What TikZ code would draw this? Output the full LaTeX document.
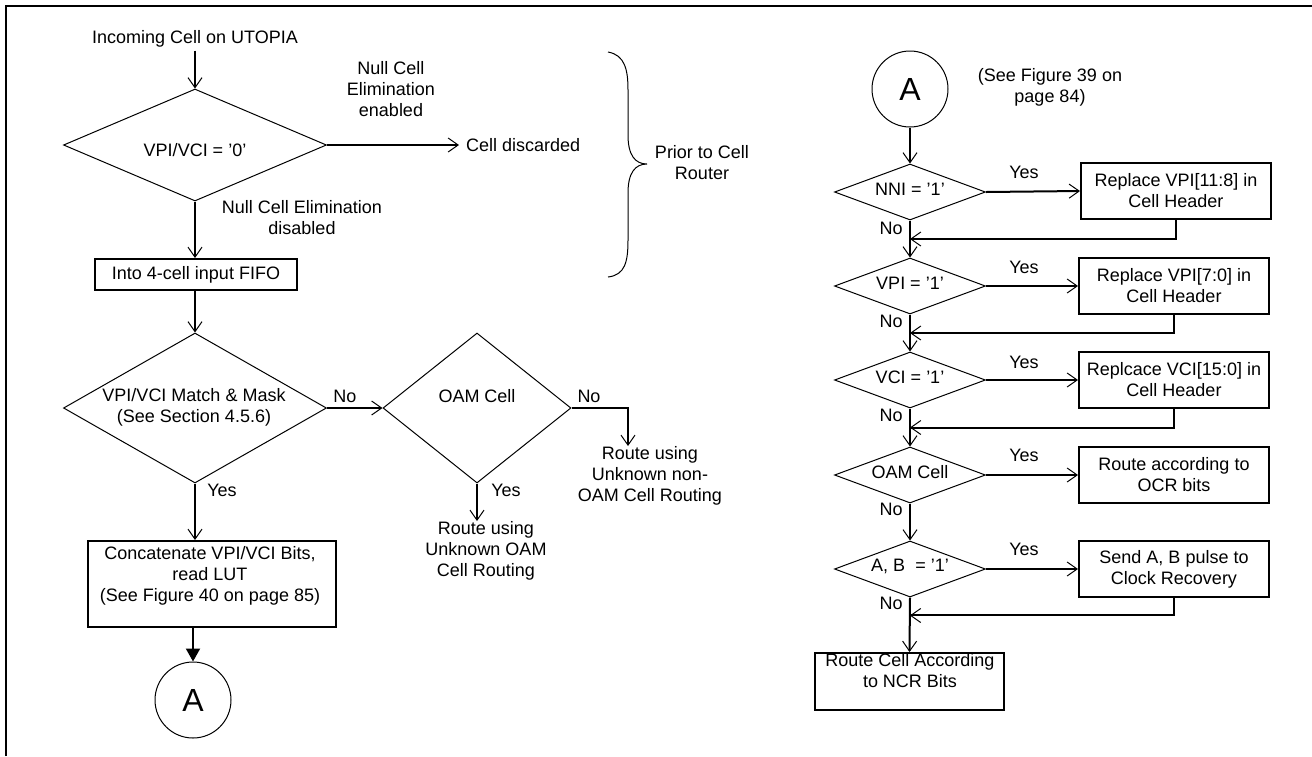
\documentclass[tikz,border=0pt]{standalone}
\usepackage{fontspec}
\setmainfont{Liberation Sans}
\usetikzlibrary{arrows.meta,shapes.geometric,calc}
\begin{document}
\begin{tikzpicture}[x=1pt,y=-1pt,
  every node/.style={font=\fontsize{18}{21}\selectfont, inner sep=0pt},
  lbl/.style={align=center},
  box/.style={draw, line width=2pt, inner sep=0pt, align=center},
  dia/.style={draw, diamond, line width=1pt, inner sep=0pt},
  rdia/.style={dia, minimum width=151pt, minimum height=56pt},
  rbox/.style={box, minimum width=190pt, minimum height=56pt},
  conn/.style={line width=1.6pt, -{Straight Barb[length=10pt,width=14pt,line width=1pt]}},
  rconn/.style={conn, line width=2pt},
  big/.style={draw, circle, line width=1pt, minimum size=76pt, font=\fontsize{32}{36}\selectfont}]

\useasboundingbox (0,0) rectangle (1312,756);
\draw[line width=2pt] (6,756) -- (6,6) -- (1312,6);

% ---------- left flow ----------
\node (title) at (195,39) {Incoming Cell on UTOPIA};
\node[dia, minimum width=263pt, minimum height=112pt] (d1) at (195,145) {};
\node (d1t) at (195,150) {VPI/VCI = '0'};
\node[anchor=west] (disc) at (466,145) {Cell discarded};
\node[lbl] (en) at (391,89) {Null Cell\\Elimination\\enabled};
\node[lbl] (dis) at (302,218) {Null Cell Elimination\\disabled};
\node[box, minimum width=202pt, minimum height=31pt] (fifo) at (196,274.5) {Into 4-cell input FIFO};
\node[dia, minimum width=263pt, minimum height=150pt] (d2) at (195,408) {};
\node[lbl] (d2t) at (194,407) {VPI/VCI Match \& Mask\\(See Section 4.5.6)};
\node (no1) at (345,396) {No};
\node[dia, minimum width=188pt, minimum height=150pt] (d3) at (477,408) {};
\node (d3t) at (477,396) {OAM Cell};
\node (no2) at (589,396) {No};
\node[lbl, anchor=north] (nonoam) at (650,446) {Route using\\Unknown non-\\OAM Cell Routing};
\node (yes1) at (222,490) {Yes};
\node (yes2) at (506,490) {Yes};
\node[lbl, anchor=north] (oamr) at (486,521) {Route using\\Unknown OAM\\Cell Routing};
\node[box, minimum width=248pt, minimum height=86pt] (lut) at (212,584) {};
\node[lbl] (lutt) at (210,576) {Concatenate VPI/VCI Bits,\\read LUT\\(See Figure 40 on page 85)};
\node[big] (ca) at (193,700) {A};

\draw[conn, shorten <=3pt] (title.south) -- (d1.north);
\draw[conn, shorten >=7pt] (d1.east) -- (disc.west);
\draw[conn] (d1.south) -- (d1.south |- fifo.north);
\draw[conn] (fifo.south -| d2.north) -- (d2.north);
\draw[conn] (d2.east) -- (d3.west);
\draw[conn] (d3.east) -| ([xshift=-22pt]nonoam.north);
\draw[conn] (d2.south) -- (d2.south |- lut.north);
\draw[conn] (d3.south) -- (d3.south |- oamr.north);
\draw[line width=2pt, -{Triangle[length=13pt,width=14pt]}] (lut.south -| ca.north) -- (ca.north);

% brace
\draw[line width=1pt] (608,52) .. controls (625,55) and (628,70) .. (628,90) -- (628,135)
  .. controls (628,155) and (635,164) .. (647,164)
  .. controls (635,164) and (628,173) .. (628,193) -- (628,240)
  .. controls (628,262) and (625,275) .. (608,277);
\node[lbl] (prior) at (702,163) {Prior to Cell\\Router};

% ---------- right flow ----------
\node[big] (cb) at (910,89) {A};
\node[lbl] (see) at (1050,87) {(See Figure 39 on\\page 84)};

\node[rdia] (nni) at (910,192) {}; \node (nnit) at (910,189) {NNI = '1'};
\node[rdia] (vpi) at (910,286) {}; \node (vpit) at (910,283) {VPI = '1'};
\node[rdia] (vci) at (910,380) {}; \node (vcit) at (910,377) {VCI = '1'};
\node[rdia] (oam) at (910,475) {}; \node (oamt) at (910,472) {OAM Cell};
\node[rdia] (ab) at (910,569) {};  \node (abt) at (910,566) {A, B~~= '1'};

\node[rbox] (b1) at (1176,191) {Replace VPI[11:8] in\\Cell Header};
\node[rbox] (b2) at (1174,286) {Replace VPI[7:0] in\\Cell Header};
\node[rbox] (b3) at (1174,380) {Replcace VCI[15:0] in\\Cell Header};
\node[rbox] (b4) at (1174,475) {Route according to\\OCR bits};
\node[rbox] (b5) at (1174,569) {Send A, B pulse to\\Clock Recovery};

\node (y1) at (1024,172) {Yes};
\node (y2) at (1024,267) {Yes};
\node (y3) at (1024,362) {Yes};
\node (y4) at (1024,455) {Yes};
\node (y5) at (1024,549) {Yes};
\node (n1) at (891,228) {No};
\node (n2) at (891,321) {No};
\node (n3) at (891,415) {No};
\node (n4) at (891,509) {No};
\node (n5) at (891,603) {No};

\node[box, minimum width=189pt, minimum height=57pt] (fin) at (909.5,681.5) {};
\node[lbl] (fint) at (910,671) {Route Cell According\\to NCR Bits};

\draw[rconn] (cb.south) -- (nni.north);
\draw[rconn] (nni.east) -- (b1.west);
\draw[rconn] (vpi.east) -- (b2.west);
\draw[rconn] (vci.east) -- (b3.west);
\draw[rconn] (oam.east) -- (b4.west);
\draw[rconn] (ab.east) -- (b5.west);
\draw[rconn] (nni.south) -- (vpi.north);
\draw[rconn] (vpi.south) -- (vci.north);
\draw[rconn] (vci.south) -- (oam.north);
\draw[rconn] (oam.south) -- (ab.north);
\draw[rconn] (ab.south) -- (fin.north);
\draw[rconn] (b1.south) |- ($(nni.south)!0.5!(vpi.north)$);
\draw[rconn] (b2.south) |- ($(vpi.south)!0.5!(vci.north)$);
\draw[rconn] (b3.south) |- ($(vci.south)!0.5!(oam.north)$);
\draw[rconn] (b5.south) |- ($(ab.south)!0.33!(fin.north)$);
\end{tikzpicture}
\end{document}
